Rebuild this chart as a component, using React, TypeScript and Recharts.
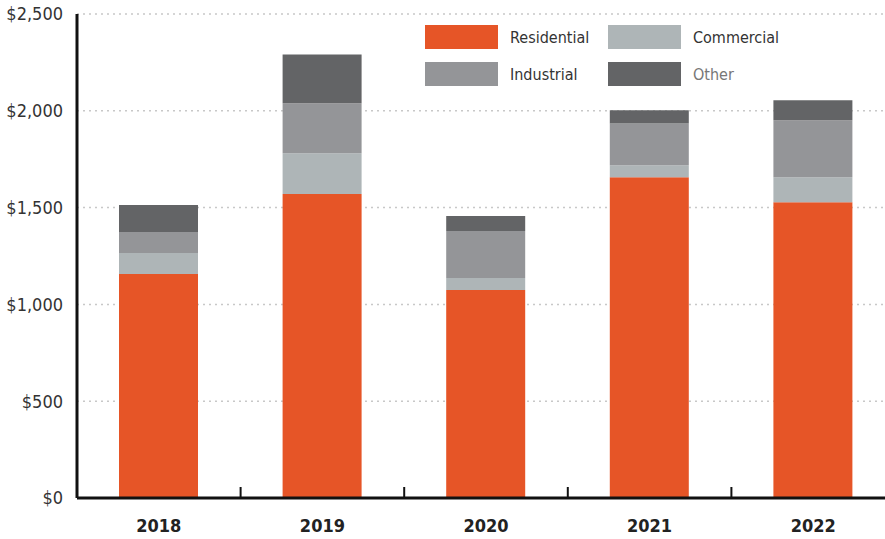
import { BarChart, Bar, XAxis, YAxis, CartesianGrid } from "recharts"

const years = ["2018", "2019", "2020", "2021", "2022"]
const residential = [1157, 1570, 1075, 1657, 1528]
const commercial = [108, 211, 62, 62, 129]
const industrial = [109, 258, 242, 216, 294]
const other = [139, 252, 77, 68, 103]
const yTicks = [0, 500, 1000, 1500, 2000, 2500]

const series = [
  { key: "residential", name: "Residential", color: "#E65527", text: "#333333" },
  { key: "commercial", name: "Commercial", color: "#AEB5B7", text: "#333333" },
  { key: "industrial", name: "Industrial", color: "#949598", text: "#333333" },
  { key: "other", name: "Other", color: "#636466", text: "#777777" },
]

const data = years.map((year, i) => ({
  year,
  residential: residential[i],
  commercial: commercial[i],
  industrial: industrial[i],
  other: other[i],
}))

const FONT = "'Liberation Sans Narrow', 'DejaVu Sans Condensed', sans-serif"
const X_TICK_MARGIN = 21

// year label, plus a short upward tick at the left edge of each category band
function YearTick(props: any) {
  const { x, y, payload, index } = props
  const axisY = y - X_TICK_MARGIN
  const edge = x - (payload.offset || 0)
  return (
    <g>
      {index > 0 && <line x1={edge} x2={edge} y1={axisY} y2={axisY - 11} stroke="#111" strokeWidth={2} />}
      <text x={x} y={y} dy="0.71em" textAnchor="middle" fontFamily={FONT} fontSize={18} fontWeight="bold" fill="#222">
        {payload.value}
      </text>
    </g>
  )
}

function LegendBox() {
  const cells = [
    { s: series[0], left: 425, top: 25 },
    { s: series[1], left: 608, top: 25 },
    { s: series[2], left: 425, top: 62 },
    { s: series[3], left: 608, top: 62 },
  ]
  return (
    <>
      {cells.map(({ s, left, top }) => (
        <div key={s.key} style={{ position: "absolute", left, top, display: "flex", alignItems: "center" }}>
          <div style={{ width: 73, height: 24, background: s.color }} />
          <span style={{ marginLeft: 12, fontFamily: FONT, fontSize: 16, color: s.text }}>{s.name}</span>
        </div>
      ))}
    </>
  )
}

export default function App() {
  return (
    <div style={{ position: "absolute", left: 0, top: 0, width: 885, height: 539, overflow: "hidden", background: "#fff" }}>
      <BarChart width={900} height={539} data={data} margin={{ top: 14, right: 5, bottom: 0, left: 0 }} barSize={79}>
        <CartesianGrid vertical={false} stroke="#c8c8c8" strokeWidth={1.5} strokeDasharray="2 4" />
        <YAxis
          width={77}
          domain={[0, 2500]}
          ticks={yTicks}
          tickFormatter={(v: number) => `$${v.toLocaleString("en-US")}`}
          tickLine={false}
          tickSize={0}
          tickMargin={14}
          axisLine={{ stroke: "#111", strokeWidth: 3 }}
          tick={{ fontFamily: FONT, fontSize: 18, fill: "#333" }}
        />
        {series.map((s) => (
          <Bar key={s.key} dataKey={s.key} name={s.name} stackId="a" fill={s.color} isAnimationActive={false} />
        ))}
        <XAxis
          dataKey="year"
          height={41}
          tickLine={false}
          axisLine={{ stroke: "#111", strokeWidth: 3 }}
          tickSize={0}
          tickMargin={X_TICK_MARGIN}
          tick={<YearTick />}
        />
      </BarChart>
      <LegendBox />
    </div>
  )
}
